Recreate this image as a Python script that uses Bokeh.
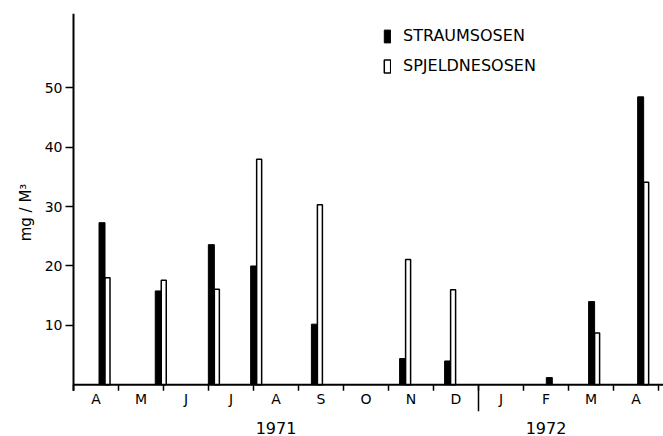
from bokeh.plotting import figure
from bokeh.models import (FixedTicker, Range1d, Legend, LegendItem, ColumnDataSource)
from bokeh.core.properties import value
from bokeh.embed import file_html
from bokeh.resources import INLINE

# ---- data ----
months = ["A", "M", "J", "J", "A", "S", "O", "N", "D", "J", "F", "M", "A"]
years = ["1971", "1972"]
year_pos = [4.5, 10.5]          # centre of each year label, in months from 1 Apr 1971
year_break = [9]                # month boundary between 1971 and 1972
# sampling position (months since 1 April 1971)
sample_pos = [0.70, 1.95, 3.13, 4.07, 5.42, 7.38, 8.38, 10.64, 11.58, 12.67]
straumsosen = [27.3, 15.8, 23.6, 20.0, 10.2, 4.4, 4.0, 1.2, 14.0, 48.5]
spjeldnesosen = [18.0, 17.6, 16.1, 38.0, 30.3, 21.1, 16.0, None, 8.7, 34.1]
y_ticks = [10, 20, 30, 40, 50]

FONT = "DejaVu Sans"
PX_PER_MONTH = 45.0
PX_PER_UNIT = 5.98

W, H = 663, 436
ML, MT, MB = 71, 13, 22
frame_w = W - ML
frame_h = H - MT - MB
x0 = -2 / PX_PER_MONTH
x1 = x0 + frame_w / PX_PER_MONTH
zero_from_top = 374
y1 = zero_from_top / PX_PER_UNIT
y0 = -(frame_h - zero_from_top) / PX_PER_UNIT

p = figure(width=W, height=H, output_backend="svg", toolbar_location=None,
           x_range=Range1d(x0, x1), y_range=Range1d(y0, y1),
           min_border_left=ML, min_border_right=0, min_border_top=MT,
           min_border_bottom=MB)
p.outline_line_color = None
p.xgrid.visible = False
p.ygrid.visible = False
p.background_fill_color = "white"

# ---- y axis ----
ya = p.yaxis[0]
ya.ticker = FixedTicker(ticks=y_ticks)
ya.axis_line_color = None
ya.major_tick_out = 6
ya.major_tick_in = 2
ya.major_tick_line_width = 1.5
ya.minor_tick_line_color = None
ya.major_label_text_font = FONT
ya.major_label_text_font_size = "14px"
ya.major_label_text_color = "black"
ya.major_label_standoff = 3
ya.axis_label = "mg / M³"
ya.axis_label_text_font = FONT
ya.axis_label_text_font_size = "15px"
ya.axis_label_text_font_style = "normal"
ya.axis_label_text_color = "black"
ya.axis_label_standoff = 7

# ---- x axis (year labels) ----
xa = p.xaxis[0]
xa.ticker = FixedTicker(ticks=year_pos)
xa.major_label_overrides = {yp: yl for yp, yl in zip(year_pos, years)}
xa.axis_line_color = None
xa.major_tick_line_color = None
xa.minor_tick_line_color = None
xa.major_label_text_font = FONT
xa.major_label_text_font_size = "16px"
xa.major_label_text_color = "black"
xa.major_label_standoff = 4

# ---- bars ----
bw_black = 6 / PX_PER_MONTH
bw_white = 5 / PX_PER_MONTH
src_b = ColumnDataSource(dict(left=[x - bw_black for x in sample_pos], right=sample_pos,
                              top=straumsosen, bottom=[0] * len(sample_pos)))
wp = [x for x, v in zip(sample_pos, spjeldnesosen) if v is not None]
wv = [v for v in spjeldnesosen if v is not None]
src_w = ColumnDataSource(dict(left=wp, right=[x + bw_white for x in wp],
                              top=wv, bottom=[0] * len(wp)))
r_b = p.quad(left="left", right="right", top="top", bottom="bottom", source=src_b,
             fill_color="black", line_color="black", line_width=1)
r_w = p.quad(left="left", right="right", top="top", bottom="bottom", source=src_w,
             fill_color="white", line_color="black", line_width=1.5)

# ---- axis lines, month ticks and labels drawn in data space ----
tick_len = 6 / PX_PER_UNIT
bounds = list(range(len(months) + 1))
p.segment(x0=[0], y0=[-tick_len], x1=[0], y1=[y1], line_color="black", line_width=2)
p.segment(x0=[0], y0=[0], x1=[x1], y1=[0], line_color="black", line_width=2)
p.segment(x0=bounds, y0=[-tick_len] * len(bounds), x1=bounds, y1=[0] * len(bounds),
          line_color="black", line_width=1.5)
p.segment(x0=year_break, y0=[y0] * len(year_break), x1=year_break, y1=[0] * len(year_break),
          line_color="black", line_width=1.5)
p.text(x=[i + 0.5 for i in range(len(months))], y=[-14 / PX_PER_UNIT] * len(months),
       text=months, text_align="center", text_baseline="middle",
       text_font=value(FONT), text_font_size="14px", text_color="black")

# ---- legend ----
legend = Legend(items=[LegendItem(label="STRAUMSOSEN", renderers=[r_b]),
                       LegendItem(label="SPJELDNESOSEN", renderers=[r_w])],
                location=(312, 336), orientation="vertical",
                glyph_width=8, glyph_height=16, label_height=16,
                label_standoff=12, spacing=11, padding=0, margin=0,
                border_line_color=None, background_fill_alpha=0,
                label_text_font=FONT, label_text_font_size="16px",
                label_text_color="black")
p.add_layout(legend)

open("out.html", "w").write(file_html(p, INLINE))
